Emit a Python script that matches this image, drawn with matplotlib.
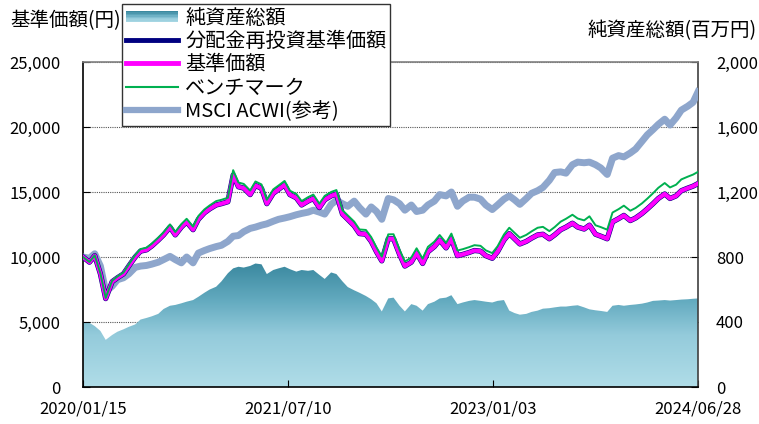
import numpy as np
import pandas as pd
import matplotlib
matplotlib.use('Agg')
import matplotlib.pyplot as plt
import matplotlib.dates as mdates
from matplotlib.colors import LinearSegmentedColormap
from matplotlib.patches import Rectangle
from matplotlib.lines import Line2D
from matplotlib.legend_handler import HandlerBase
from matplotlib.ticker import FuncFormatter

plt.rcParams['font.family'] = ['Noto Sans CJK JP', 'DejaVu Sans']

# dates: start, then 1st/15th of every month, then last day
dates = (pd.DatetimeIndex(['2020-01-15'])
         .append(pd.date_range('2020-02-01', '2024-06-15', freq='SMS'))
         .append(pd.DatetimeIndex(['2024-06-28'])))

# 基準価額 (円)
nav_price = [
    10000, 9600, 10100, 8700, 6800, 8100, 8400, 8700, 9300, 10000, 10450, 10550,
    10850, 11300, 11700, 12300, 11700, 12300, 12700, 12100, 12900, 13400, 13700,
    14000, 14100, 14250, 16300, 15400, 15300, 14800, 15500, 15280, 14100, 14900, 15200,
    15550, 14800, 14550, 14000, 14300, 14500, 13800, 14400, 14700, 14850, 13300, 12900,
    12400, 11800, 11750, 11200, 10400, 9700, 11400, 11400, 10200, 9300, 9600, 10300,
    9500, 10400, 10800, 11300, 10700, 11400, 10100, 10200, 10350, 10500, 10450, 10100,
    9900, 10400, 11300, 11800, 11400, 11000, 11200, 11450, 11700, 11750, 11400, 11700,
    12100, 12300, 12600, 12300, 12150, 12450, 11750, 11600, 11400, 12700, 12950, 13200,
    12800, 13000, 13350, 13700, 14100, 14500, 14850, 14500, 14700, 15100, 15300, 15450, 15650,
]
# 分配金再投資基準価額 (no distributions -> same path)
nav_reinvest = list(nav_price)

# ベンチマーク
benchmark = [
    10000, 9620, 10130, 8740, 6850, 8180, 8500, 8810, 9430, 10150, 10610, 10720,
    11030, 11490, 11900, 12510, 11920, 12530, 12940, 12340, 13150, 13660, 13970,
    14300, 14400, 14560, 16680, 15730, 15620, 15110, 15810, 15580, 14400, 15200, 15500,
    15850, 15100, 14850, 14300, 14600, 14800, 14100, 14700, 15000, 15150, 13600, 13200,
    12720, 12120, 12080, 11530, 10730, 10030, 11740, 11750, 10550, 9650, 9960, 10670,
    9870, 10780, 11180, 11690, 11090, 11800, 10500, 10600, 10760, 10910, 10860, 10510,
    10300, 10820, 11730, 12250, 11860, 11480, 11700, 11970, 12250, 12320, 11990, 12300,
    12720, 12940, 13250, 12960, 12820, 13130, 12440, 12300, 12100, 13420, 13680, 13950,
    13560, 13770, 14130, 14490, 14900, 15320, 15690, 15350, 15560, 15970, 16180, 16340, 16550,
]

# MSCI ACWI(参考)
msci = [
    10000, 9900, 10250, 9300, 7350, 7750, 8250, 8400, 8700, 9200, 9300, 9350,
    9450, 9600, 9800, 10050, 9800, 9550, 10000, 9550, 10300, 10500, 10650,
    10800, 10900, 11200, 11600, 11650, 11950, 12200, 12300, 12450, 12550, 12750, 12900,
    13000, 13100, 13250, 13350, 13450, 13600, 13450, 13300, 14050, 14350, 14100, 13900,
    14300, 13800, 13300, 13850, 13500, 12900, 14500, 14400, 14100, 13600, 14000, 13500,
    13600, 14000, 14300, 14800, 14700, 15000, 13900, 14300, 14600, 14600, 14450, 14000,
    13650, 14000, 14450, 14700, 14400, 14050, 14500, 14900, 15100, 15350, 15900, 16500,
    16550, 16450, 17100, 17300, 17250, 17300, 17100, 16850, 16350, 17600, 17800, 17700,
    18000, 18300, 18900, 19400, 19800, 20200, 20600, 20150, 20700, 21300, 21600, 21900, 22700,
]

# 純資産総額 (百万円)
net_assets = [
    400, 395, 375, 345, 290, 320, 340, 355, 370, 385, 415, 425,
    435, 450, 480, 500, 505, 515, 525, 535, 555, 580, 600,
    617, 650, 700, 730, 740, 735, 745, 760, 755, 695, 720, 730,
    740, 725, 710, 720, 715, 720, 690, 665, 705, 695, 650, 615,
    595, 580, 560, 540, 515, 465, 545, 550, 500, 465, 510, 500,
    470, 510, 525, 545, 550, 565, 510, 520, 530, 535, 530, 525,
    520, 530, 535, 470, 455, 445, 450, 462, 470, 482, 485, 490,
    495, 495, 500, 503, 490, 478, 472, 468, 462, 500, 505, 500,
    505, 508, 513, 520, 530, 532, 535, 532, 535, 538, 540, 543, 545,
]

tick_dates = pd.to_datetime(['2020-01-15', '2021-07-10', '2023-01-03', '2024-06-28'])
labels = ['純資産総額', '分配金再投資基準価額', '基準価額', 'ベンチマーク', 'MSCI ACWI(参考)']

area_cmap = LinearSegmentedColormap.from_list(
    'nav', [(0.0, '#b0dde8'), (0.4, '#94cbdb'), (0.66, '#64abc0'), (1.0, '#34839a')])


class GradientHandler(HandlerBase):
    def create_artists(self, legend, orig_handle, xdescent, ydescent,
                       width, height, fontsize, trans):
        n = 8
        h = height * 0.8
        y0 = -ydescent + (height - h) / 2
        out = []
        for i in range(n):
            c = area_cmap(0.15 + 0.8 * i / (n - 1))
            r = Rectangle((-xdescent, y0 + h * i / n), width, h / n + 0.3,
                          facecolor=c, edgecolor='none', transform=trans)
            out.append(r)
        return out


fig = plt.figure(figsize=(7.59, 4.24), dpi=100)
ax = fig.add_axes([83 / 759, 37 / 424, 615 / 759, 325 / 424])
ax2 = ax.twinx()
ax.set_zorder(2)
ax2.set_zorder(1)
ax.patch.set_visible(False)
ax2.patch.set_visible(True)
ax2.patch.set_facecolor('white')

# net assets area with vertical gradient
poly = ax2.fill_between(dates, net_assets, 0, facecolor='none', edgecolor='none')
x0, x1 = mdates.date2num(dates[0]), mdates.date2num(dates[-1])
grad = np.linspace(0, 1, 256).reshape(-1, 1)
img = ax2.imshow(grad, extent=[x0, x1, 0, 800], origin='lower', aspect='auto',
                 cmap=area_cmap, zorder=2)
img.set_clip_path(poly.get_paths()[0], transform=ax2.transData)
ax2.set_ylim(0, 2000)
ax2.set_yticks(np.arange(0, 2001, 400))
ax2.yaxis.set_major_formatter(FuncFormatter(lambda v, p: f'{v:,.0f}'))
ax2.set_axisbelow(True)
ax2.grid(axis='y', linestyle=(0, (1, 1)), color='#555555', linewidth=0.8)
ax2.tick_params(axis='y', direction='in', length=5, pad=13, labelsize=12)
for s in ax2.spines.values():
    s.set_visible(False)

# price lines
ax.plot(dates, msci, color='#8ea6cc', lw=5.0, solid_joinstyle='round', zorder=3)
ax.plot(dates, nav_reinvest, color='#000080', lw=3.8, solid_joinstyle='round', zorder=4)
ax.plot(dates, nav_price, color='#ff00ff', lw=3.0, solid_joinstyle='round', zorder=5)
ax.plot(dates, benchmark, color='#00b050', lw=1.4, zorder=6)

ax.set_xlim(dates[0], dates[-1])
ax2.set_xlim(x0, x1)
ax.set_ylim(0, 25000)
ax.set_yticks(np.arange(0, 25001, 5000))
ax.yaxis.set_major_formatter(FuncFormatter(lambda v, p: f'{v:,.0f}'))
ax.set_xticks(tick_dates)
ax.xaxis.set_major_formatter(mdates.DateFormatter('%Y/%m/%d'))
ax.tick_params(axis='y', direction='in', length=5, pad=16, labelsize=12)
ax.tick_params(axis='x', direction='in', length=5, pad=10, labelsize=12)
ax.spines['left'].set_color('black')
ax.spines['bottom'].set_color('black')
ax.spines['top'].set_color('#808080')
ax.spines['right'].set_color('#404040')
for s in ax.spines.values():
    s.set_linewidth(1.2)

fig.text(10 / 759, 1 - 21 / 424, '基準価額(円)', fontsize=14, va='center', ha='left')
fig.text(757 / 759, 1 - 31 / 424, '純資産総額(百万円)', fontsize=14, va='center', ha='right')

handles = [Rectangle((0, 0), 1, 1),
           Line2D([], [], color='#000080', lw=3.5),
           Line2D([], [], color='#ff00ff', lw=3.5),
           Line2D([], [], color='#00b050', lw=1.5),
           Line2D([], [], color='#8ea6cc', lw=4.5)]
fig.legend(handles, labels, loc='upper left', bbox_to_anchor=(122 / 759, 1 - 4 / 424),
           frameon=True, fancybox=False, edgecolor='#333333', framealpha=1,
           fontsize=14.5, handlelength=2.6, handletextpad=0.35, labelspacing=0.12,
           borderpad=0.18, borderaxespad=0, handler_map={Rectangle: GradientHandler()})

fig.savefig('out.png', dpi=100)
